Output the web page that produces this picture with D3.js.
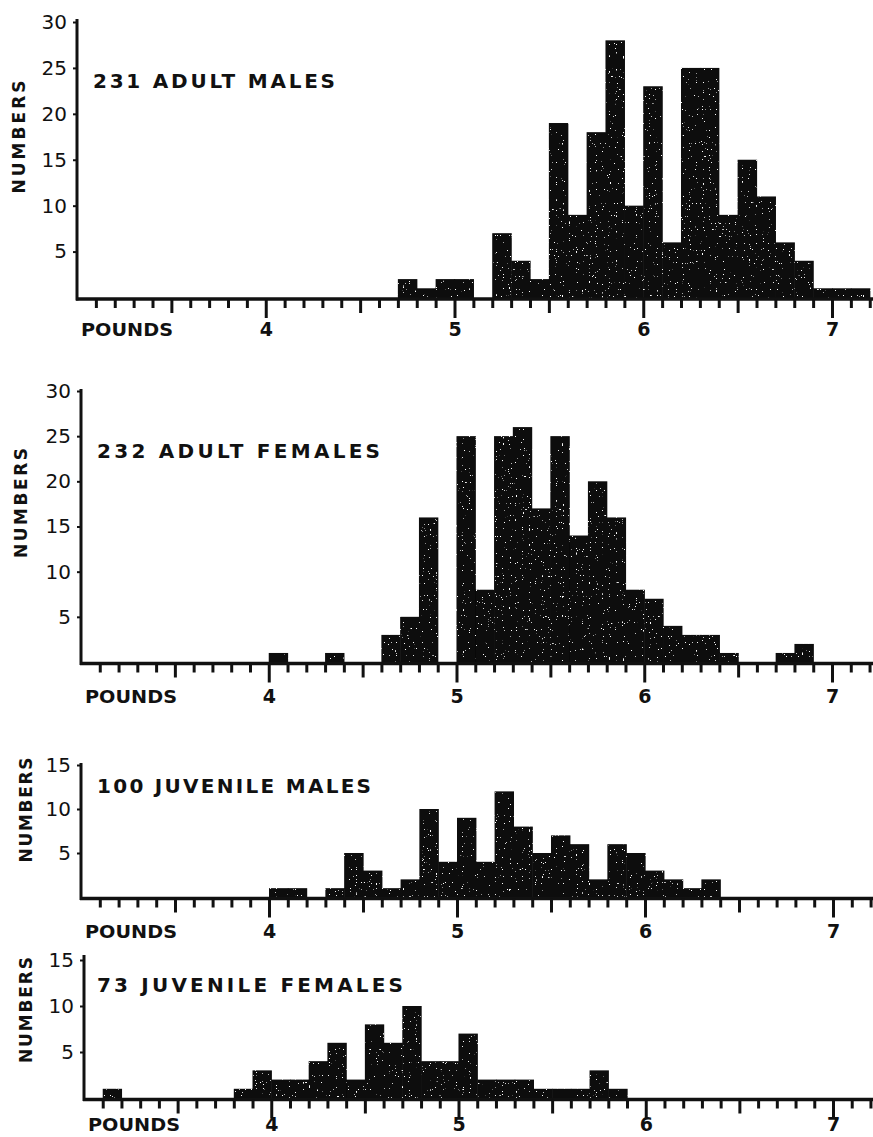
<!DOCTYPE html>
<html>
<head>
<meta charset="utf-8" />
<title>Weight distributions</title>
<style>
html, body {
  margin: 0;
  padding: 0;
  background: #fff;
}
text {
  font-family: "DejaVu Sans", "Open Sans", sans-serif;
  fill: #111;
}
.axis path, .axis line {
  stroke: #111;
}
</style>
</head>
<body>
<script src="https://d3js.org/d3.v7.min.js"></script>
<script>

// ---------------------------------------------------------
// Data: bin start (pounds, 0.1 lb bins) and counts per bin

const adultMalesLb = [4.7, 4.8, 4.9, 5.0, 5.2, 5.3, 5.4, 5.5, 5.6, 5.7, 5.8, 5.9, 6.0, 6.1, 6.2, 6.3, 6.4, 6.5, 6.6, 6.7, 6.8, 6.9, 7.0, 7.1]
const adultMalesN  = [2,   1,   2,   2,   7,   4,   2,   19,  9,   18,  28,  10,  23,  6,   25,  25,  9,   15,  11,  6,   4,   1,   1,   1]

const adultFemalesLb = [4.0, 4.3, 4.6, 4.7, 4.8, 5.0, 5.1, 5.2, 5.3, 5.4, 5.5, 5.6, 5.7, 5.8, 5.9, 6.0, 6.1, 6.2, 6.3, 6.4, 6.7, 6.8]
const adultFemalesN  = [1,   1,   3,   5,   16,  25,  8,   25,  26,  17,  25,  14,  20,  16,  8,   7,   4,   3,   3,   1,   1,   2]

const juvMalesLb = [4.0, 4.1, 4.3, 4.4, 4.5, 4.6, 4.7, 4.8, 4.9, 5.0, 5.1, 5.2, 5.3, 5.4, 5.5, 5.6, 5.7, 5.8, 5.9, 6.0, 6.1, 6.2, 6.3]
const juvMalesN  = [1,   1,   1,   5,   3,   1,   2,   10,  4,   9,   4,   12,  8,   5,   7,   6,   2,   6,   5,   3,   2,   1,   2]

const juvFemalesLb = [3.1, 3.8, 3.9, 4.0, 4.1, 4.2, 4.3, 4.4, 4.5, 4.6, 4.7, 4.8, 4.9, 5.0, 5.1, 5.2, 5.3, 5.4, 5.5, 5.6, 5.7, 5.8]
const juvFemalesN  = [1,   1,   3,   2,   2,   4,   6,   2,   8,   6,   10,  4,   4,   7,   2,   2,   2,   1,   1,   1,   3,   1]

const titles = ['231 ADULT MALES', '232 ADULT FEMALES', '100 JUVENILE MALES', '73 JUVENILE FEMALES']
const yTicksBig = [5, 10, 15, 20, 25, 30]
const yTicksSmall = [5, 10, 15]
const xLabels = [4, 5, 6, 7]
const binWidth = 0.1

// ---------------------------------------------------------
// Layout of the four panels (pixels)

const panels = [
  { lb: adultMalesLb, n: adultMalesN, title: titles[0], yMax: 30, yTicks: yTicksBig,
    x3: 77, x7: 832, y0: 297.5, yTop: 22, axisTop: 19, titleX: 93, titleY: 88, titleLen: 242,
    numY: 137, numX: 18, numLen: 113, labelY: 336 },
  { lb: adultFemalesLb, n: adultFemalesN, title: titles[1], yMax: 30, yTicks: yTicksBig,
    x3: 81, x7: 832, y0: 662, yTop: 391, axisTop: 389, titleX: 97, titleY: 458, titleLen: 283,
    numY: 503, numX: 20, numLen: 110, labelY: 703 },
  { lb: juvMalesLb, n: juvMalesN, title: titles[2], yMax: 15, yTicks: yTicksSmall,
    x3: 81, x7: 833, y0: 897, yTop: 765, axisTop: 763, titleX: 97, titleY: 793, titleLen: 274,
    numY: 810, numX: 25, numLen: 105, labelY: 938 },
  { lb: juvFemalesLb, n: juvFemalesN, title: titles[3], yMax: 15, yTicks: yTicksSmall,
    x3: 84, x7: 833, y0: 1098, yTop: 960, axisTop: 955, titleX: 97, titleY: 992, titleLen: 306,
    numY: 1010, numX: 25, numLen: 106, labelY: 1131 }
]

const W = 873, H = 1137

const svg = d3.select('body').append('svg')
  .attr('width', W)
  .attr('height', H)

// speckled ink texture for the bars
const defs = svg.append('defs')
const f = defs.append('filter').attr('id', 'speck')
  .attr('x', '-2%').attr('y', '-2%').attr('width', '104%').attr('height', '104%')
f.append('feTurbulence')
  .attr('type', 'fractalNoise').attr('baseFrequency', 0.85)
  .attr('numOctaves', 1).attr('seed', 4).attr('result', 'noise')
f.append('feColorMatrix').attr('in', 'noise').attr('type', 'matrix')
  .attr('values', '0 0 0 0 1  0 0 0 0 1  0 0 0 0 1  26 0 0 0 -18.2')
  .attr('result', 'dots')
f.append('feComposite').attr('in', 'dots').attr('in2', 'SourceAlpha')
  .attr('operator', 'in').attr('result', 'dotsIn')
const merge = f.append('feMerge')
merge.append('feMergeNode').attr('in', 'SourceGraphic')
merge.append('feMergeNode').attr('in', 'dotsIn')

const xTickValues = d3.range(31, 73).map(i => i / 10)

panels.forEach(p => {
  const x = d3.scaleLinear()
    .domain([3, 7])
    .range([p.x3, p.x7])

  const y = d3.scaleLinear()
    .domain([0, p.yMax])
    .range([p.y0, p.yTop])

  const g = svg.append('g')

  // bars
  g.append('g')
    .attr('filter', 'url(#speck)')
    .selectAll('rect')
    .data(p.lb)
    .enter().append('rect')
    .attr('x', d => x(d))
    .attr('width', d => x(d + binWidth) - x(d) + 0.6)
    .attr('y', (d, i) => y(p.n[i]))
    .attr('height', (d, i) => y(0) - y(p.n[i]) + 1)
    .attr('fill', '#080808')

  // x axis
  const xAxis = d3.axisBottom(x)
    .tickValues(xTickValues)
    .tickSize(9)
    .tickSizeOuter(0)
    .tickPadding(0)
    .tickFormat(d => xLabels.includes(Math.round(d * 10) / 10) ? d3.format('d')(d) : '')

  const gx = g.append('g')
    .attr('class', 'axis')
    .attr('transform', `translate(0,${p.y0 + 1.5})`)
    .call(xAxis)
  gx.select('.domain')
    .attr('d', `M${p.x3 - 1},0H${x(7.22)}`)
    .attr('stroke-width', 3.5)
  gx.selectAll('.tick line')
    .attr('stroke-width', 3)
    .attr('y2', d => {
      const t = Math.round(d * 10)
      if (t % 10 === 0) return 19
      if (t % 5 === 0) return 14
      return 9
    })
  gx.selectAll('.tick text')
    .attr('y', p.labelY - p.y0 - 1.5)
    .attr('dy', 0)
    .attr('font-size', 19)
    .attr('font-weight', 700)
    .attr('font-family', '"DejaVu Sans", sans-serif')

  // y axis
  const yAxis = d3.axisLeft(y)
    .tickValues(p.yTicks)
    .tickSize(4)
    .tickSizeOuter(0)
    .tickPadding(6)

  const gy = g.append('g')
    .attr('class', 'axis')
    .attr('transform', `translate(${p.x3},0)`)
    .call(yAxis)
  gy.select('.domain')
    .attr('d', `M0,${p.axisTop}V${p.y0 + 3}`)
    .attr('stroke-width', 3)
  gy.selectAll('.tick line').attr('stroke-width', 2)
  gy.selectAll('.tick text')
    .attr('font-size', 20)
    .attr('font-family', '"DejaVu Sans", sans-serif')

  // POUNDS label
  g.append('text')
    .attr('x', p.x3 + 4)
    .attr('y', p.labelY)
    .attr('font-size', 18)
    .attr('font-weight', 700)
    .attr('textLength', 92)
    .attr('lengthAdjust', 'spacingAndGlyphs')
    .text('POUNDS')

  // NUMBERS label
  g.append('text')
    .attr('transform', `translate(${p.numX + 7},${p.numY}) rotate(-90)`)
    .attr('text-anchor', 'middle')
    .attr('font-size', 17)
    .attr('font-weight', 700)
    .attr('textLength', p.numLen)
    .attr('lengthAdjust', 'spacing')
    .text('NUMBERS')

  // panel title
  g.append('text')
    .attr('x', p.titleX)
    .attr('y', p.titleY)
    .attr('font-size', 20)
    .attr('font-weight', 700)
    .attr('textLength', p.titleLen)
    .attr('lengthAdjust', 'spacing')
    .text(p.title)
})

</script>
</body>
</html>
